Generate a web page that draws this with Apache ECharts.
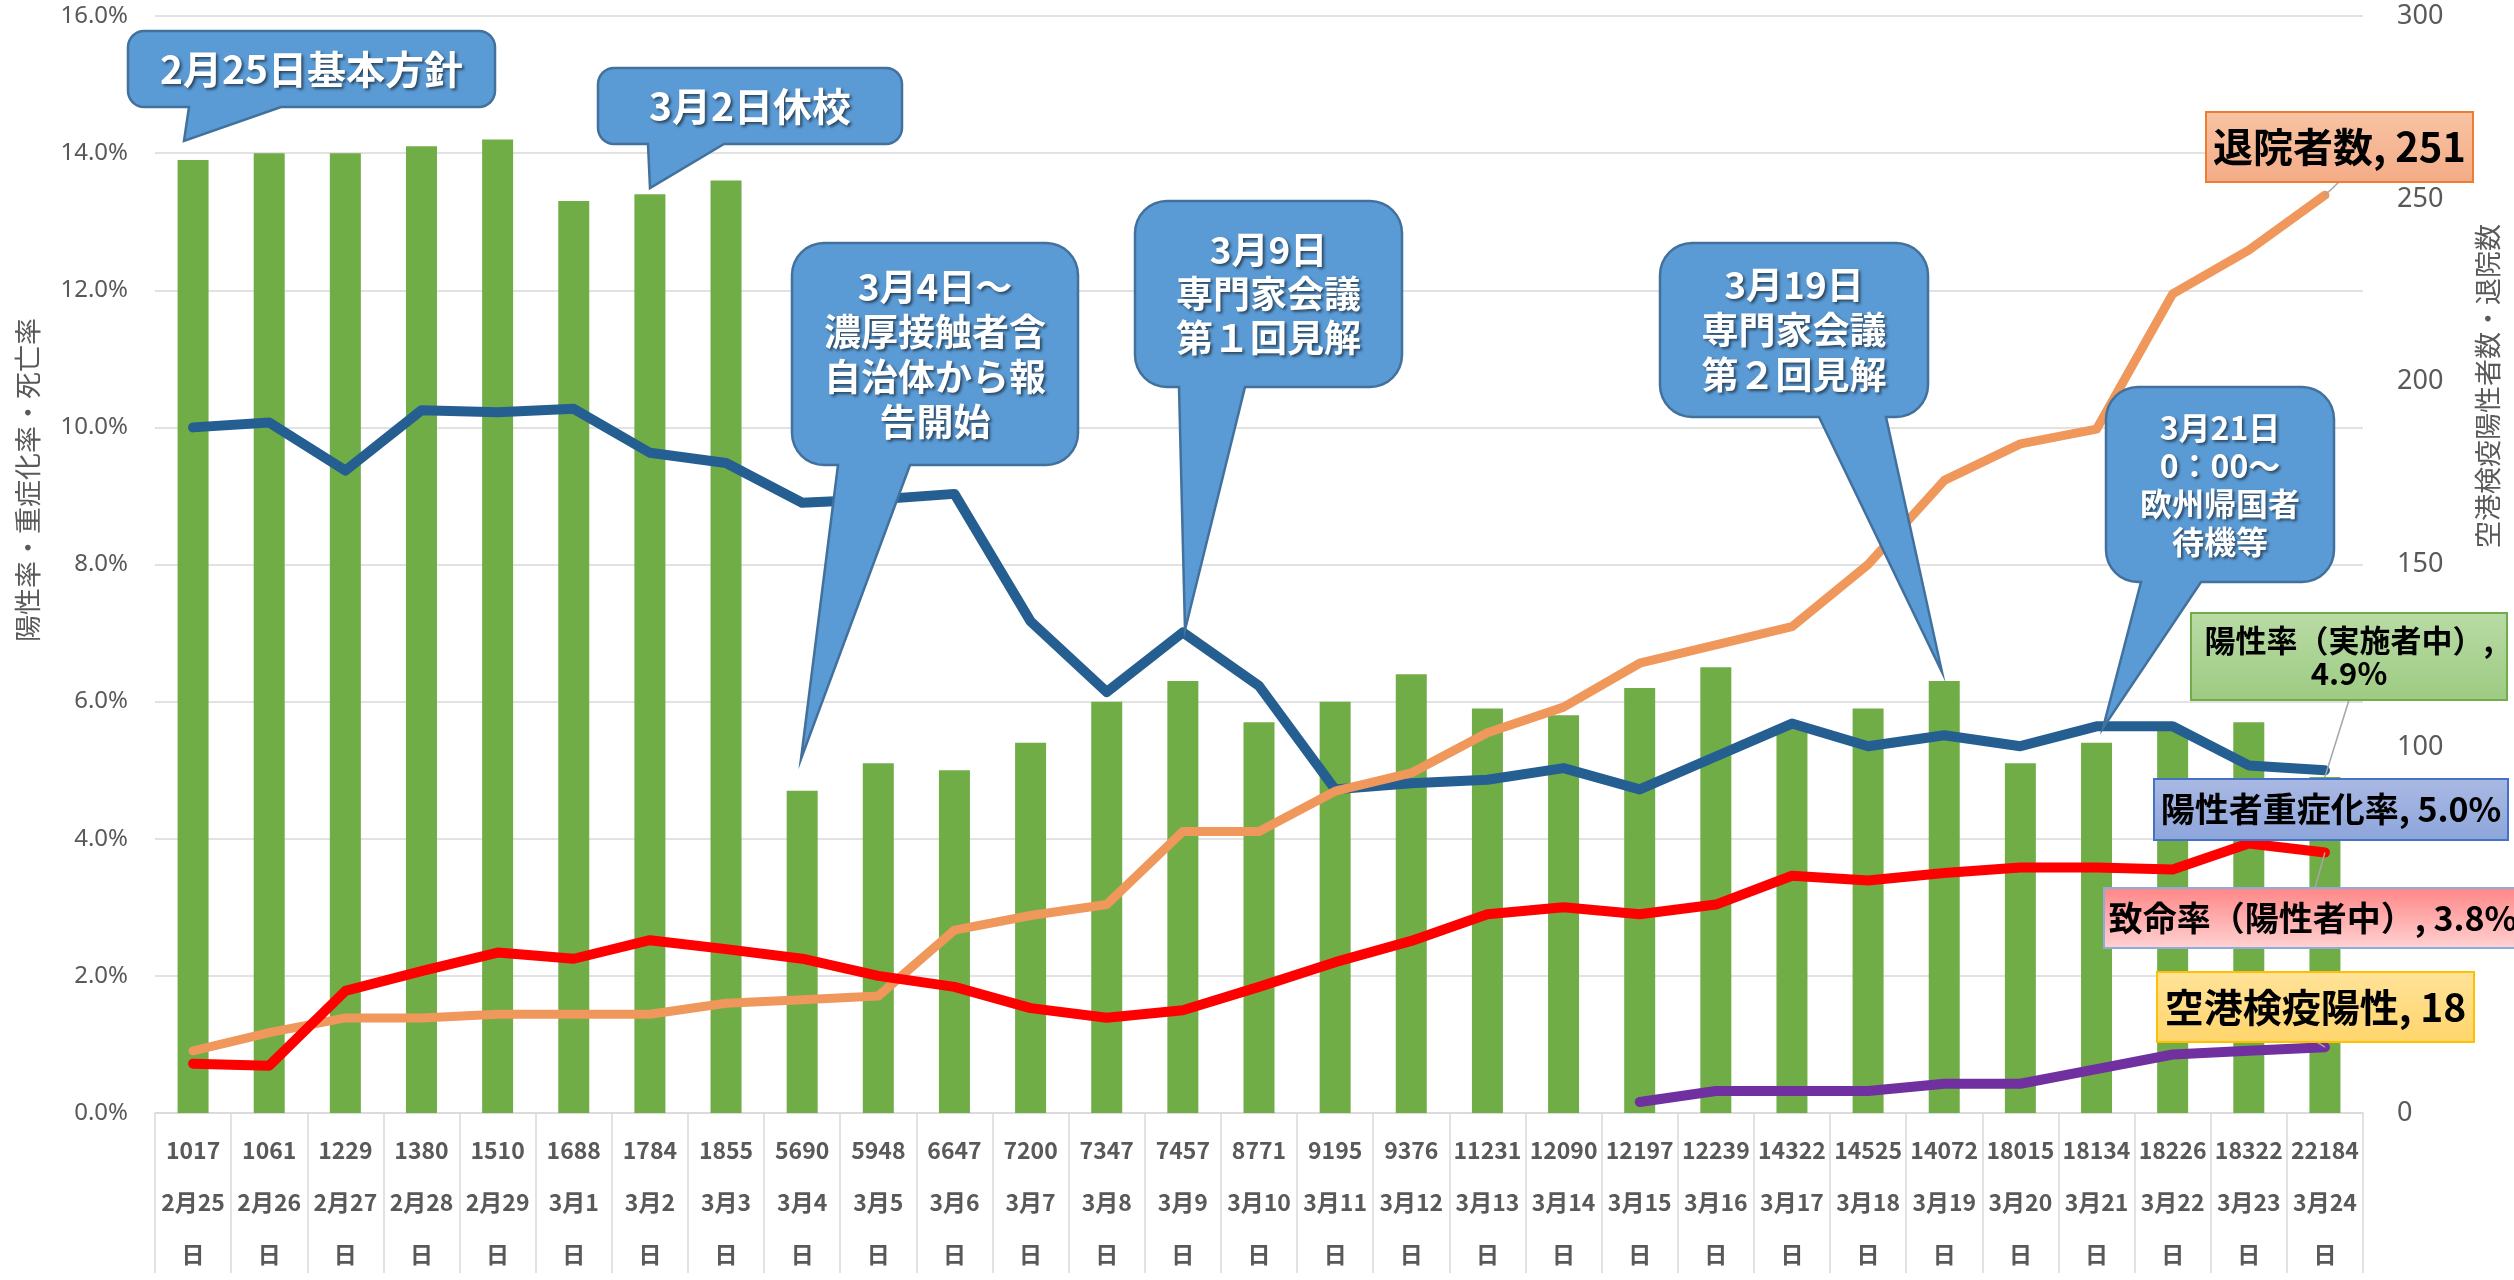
<!DOCTYPE html>
<html>
<head>
<meta charset="utf-8">
<script src="https://cdn.jsdelivr.net/npm/echarts@6/dist/echarts.min.js"></script>
<style>
  html, body { margin: 0; padding: 0; background: #fff; }
  #chart { width: 2514px; height: 1280px; }
</style>
</head>
<body>
<div id="chart"></div>
<script>
// カテゴリ（日付）と検査実施数
var dates = ['2月25日', '2月26日', '2月27日', '2月28日', '2月29日', '3月1日', '3月2日', '3月3日',
  '3月4日', '3月5日', '3月6日', '3月7日', '3月8日', '3月9日', '3月10日', '3月11日', '3月12日',
  '3月13日', '3月14日', '3月15日', '3月16日', '3月17日', '3月18日', '3月19日', '3月20日',
  '3月21日', '3月22日', '3月23日', '3月24日'];
var tests = [1017, 1061, 1229, 1380, 1510, 1688, 1784, 1855, 5690, 5948, 6647, 7200, 7347, 7457,
  8771, 9195, 9376, 11231, 12090, 12197, 12239, 14322, 14525, 14072, 18015, 18134, 18226, 18322, 22184];

// 左軸（%）
var positiveRate = [13.9, 14.0, 14.0, 14.1, 14.2, 13.3, 13.4, 13.6, 4.7, 5.1, 5.0, 5.4, 6.0, 6.3,
  5.7, 6.0, 6.4, 5.9, 5.8, 6.2, 6.5, 5.6, 5.9, 6.3, 5.1, 5.4, 5.6, 5.7, 4.9];
var severeRate = [10.0, 10.07, 9.37, 10.25, 10.22, 10.27, 9.63, 9.48, 8.9, 8.95, 9.03, 7.17, 6.14, 7.01,
  6.23, 4.72, 4.81, 4.86, 5.03, 4.72, 5.2, 5.68, 5.35, 5.51, 5.35, 5.64, 5.64, 5.07, 5.0];
var fatalityRate = [0.72, 0.69, 1.78, 2.07, 2.34, 2.25, 2.52, 2.39, 2.25, 2.0, 1.84, 1.53, 1.39, 1.5,
  1.84, 2.2, 2.51, 2.9, 3.0, 2.9, 3.04, 3.46, 3.39, 3.5, 3.58, 3.58, 3.55, 3.93, 3.8];

// 右軸（人数）
var discharged = [17, 22, 26, 26, 27, 27, 27, 30, 31, 32, 50, 54, 57, 77, 77, 88, 93, 104, 111, 123,
  128, 133, 150, 173, 183, 187, 224, 236, 251];
var airportPositive = [null, null, null, null, null, null, null, null, null, null, null, null, null,
  null, null, null, null, null, null, 3, 6, 6, 6, 8, 8, 12, 16, 17, 18];

var seriesNames = ['陽性率（実施者中）', '陽性者重症化率', '退院者数', '致命率（陽性者中）', '空港検疫陽性'];

var jp = '"Noto Sans CJK JP", sans-serif';
var myChart = echarts.init(document.getElementById('chart'));

var option = {
  animation: false,
  grid: { left: 155, right: 151, top: 16, bottom: 160 },
  xAxis: {
    type: 'category',
    data: dates,
    axisLine: { lineStyle: { color: '#D9D9D9', width: 1.5 } },
    axisTick: { show: true, interval: 0, length: 160, lineStyle: { color: '#D9D9D9', width: 1.5 } },
    axisLabel: {
      interval: 0,
      margin: 11,
      lineHeight: 52,
      fontSize: 23,
      fontWeight: 'bold',
      color: '#595959',
      fontFamily: jp,
      formatter: function (v, i) {
        return tests[i] + '\n' + v.replace('日', '\n日');
      }
    }
  },
  yAxis: [
    {
      type: 'value',
      min: 0,
      max: 16,
      interval: 2,
      axisLine: { show: false },
      axisTick: { show: false },
      splitLine: { lineStyle: { color: '#D9D9D9', width: 1.5 } },
      axisLabel: {
        margin: 27,
        fontSize: 24,
        color: '#595959',
        fontFamily: '"Noto Sans", sans-serif',
        formatter: function (v) { return v.toFixed(1) + '%'; }
      }
    },
    {
      type: 'value',
      min: 0,
      max: 300,
      interval: 50,
      axisLine: { show: false },
      axisTick: { show: false },
      splitLine: { show: false },
      axisLabel: {
        margin: 34,
        fontSize: 27,
        color: '#595959',
        fontFamily: '"Noto Sans", sans-serif'
      }
    }
  ],
  series: [
    {
      name: seriesNames[0],
      type: 'bar',
      yAxisIndex: 0,
      barWidth: 31,
      itemStyle: { color: '#70AD47' },
      data: positiveRate,
      z: 1
    },
    {
      name: seriesNames[1],
      type: 'line',
      yAxisIndex: 0,
      symbol: 'none',
      lineStyle: { color: '#255E91', width: 10, cap: 'round', join: 'round' },
      data: severeRate,
      z: 3
    },
    {
      name: seriesNames[2],
      type: 'line',
      yAxisIndex: 1,
      symbol: 'none',
      lineStyle: { color: '#F0975B', width: 9, cap: 'round', join: 'round' },
      data: discharged,
      z: 4
    },
    {
      name: seriesNames[3],
      type: 'line',
      yAxisIndex: 0,
      symbol: 'none',
      lineStyle: { color: '#FF0000', width: 10, cap: 'round', join: 'round' },
      data: fatalityRate,
      z: 5
    },
    {
      name: seriesNames[4],
      type: 'line',
      yAxisIndex: 1,
      symbol: 'none',
      connectNulls: false,
      lineStyle: { color: '#7030A0', width: 10, cap: 'round', join: 'round' },
      data: airportPositive,
      z: 6
    }
  ]
};
myChart.setOption(option);

// 吹き出し（角丸四角＋しっぽ）の輪郭
function bubblePoints(b, r, base, tip) {
  var x0 = b[0], y0 = b[1], x1 = b[2], y1 = b[3];
  var pts = [];
  function arc(cx, cy, a0, a1) {
    for (var k = 0; k <= 8; k++) {
      var a = (a0 + (a1 - a0) * k / 8) * Math.PI / 180;
      pts.push([cx + r * Math.cos(a), cy + r * Math.sin(a)]);
    }
  }
  arc(x1 - r, y0 + r, -90, 0);
  arc(x1 - r, y1 - r, 0, 90);
  pts.push([base[1], y1], tip, [base[0], y1]);
  arc(x0 + r, y1 - r, 90, 180);
  arc(x0 + r, y0 + r, 180, 270);
  return pts;
}

var callouts = [
  { lines: ['2月25日基本方針'], box: [128, 31, 495, 107], r: 16, base: [189, 281], tip: [184, 141], size: 39, lh: 44 },
  { lines: ['3月2日休校'], box: [598, 68, 902, 144], r: 16, base: [648, 724], tip: [650, 188], size: 39, lh: 44 },
  { lines: ['3月4日～', '濃厚接触者含', '自治体から報', '告開始'], box: [792, 243, 1078, 465], r: 32, base: [838, 910], tip: [801, 759], size: 37, lh: 45 },
  { lines: ['3月9日', '専門家会議', '第１回見解'], box: [1135, 201, 1402, 387], r: 32, base: [1179, 1245], tip: [1185, 630], size: 37, lh: 44 },
  { lines: ['3月19日', '専門家会議', '第２回見解'], box: [1660, 243, 1928, 417], r: 32, base: [1819, 1886], tip: [1942, 672], size: 37, lh: 45 },
  { lines: ['3月21日', '0：00～', '欧州帰国者', '待機等'], box: [2106, 387, 2334, 582], r: 32, base: [2141, 2201], tip: [2103, 728], size: 32, lh: 38 }
];

var graphics = [];
callouts.forEach(function (c) {
  graphics.push({
    type: 'polygon',
    z: 10,
    shape: { points: bubblePoints(c.box, c.r, c.base, c.tip) },
    style: { fill: '#5B9BD5', stroke: '#41719C', lineWidth: 2.5 }
  });
  graphics.push({
    type: 'text',
    z: 11,
    x: (c.box[0] + c.box[2]) / 2,
    y: (c.box[1] + c.box[3]) / 2,
    style: {
      text: c.lines.join('\n'),
      x: 0, y: 0,
      fill: '#fff',
      fontSize: c.size,
      fontWeight: 'bold',
      fontFamily: jp,
      lineHeight: c.lh,
      align: 'center', verticalAlign: 'middle',
      textAlign: 'center', textVerticalAlign: 'middle',
      textShadowColor: 'rgba(0,0,0,0.55)',
      textShadowBlur: 3,
      textShadowOffsetX: 2,
      textShadowOffsetY: 2
    }
  });
});

// 系列末尾のデータラベル
var last = dates.length - 1;
function grad(a, b) {
  return { type: 'linear', x: 0, y: 0, x2: 0, y2: 1, colorStops: [{ offset: 0, color: a }, { offset: 1, color: b }] };
}
var endLabels = [
  { s: 2, text: seriesNames[2] + ', ' + discharged[last], box: [2206, 112, 2473, 182], size: 40,
    fill: grad('#F8C4A4', '#F4AB86'), stroke: '#ED7D31', from: [2339, 182], val: discharged[last] },
  { s: 0, text: seriesNames[0] + ',\n' + positiveRate[last].toFixed(1) + '%', box: [2191, 613, 2507, 700], size: 31, lh: 33,
    fill: grad('#B9DBA6', '#9DCB82'), stroke: '#70AD47', from: [2349, 700], val: positiveRate[last] },
  { s: 1, text: seriesNames[1] + ', ' + severeRate[last].toFixed(1) + '%', box: [2154, 779, 2508, 840], size: 34,
    fill: grad('#AAB9E3', '#8DA5DB'), stroke: '#4472C4', from: null, val: severeRate[last] },
  { s: 3, text: seriesNames[3] + ', ' + fatalityRate[last].toFixed(1) + '%', box: [2104, 888, 2530, 948], size: 34,
    fill: grad('#FF8585', '#FFD3D3'), stroke: '#8FAADC', from: [2315, 888], val: fatalityRate[last] },
  { s: 4, text: seriesNames[4] + ', ' + airportPositive[last], box: [2157, 972, 2474, 1042], size: 39,
    fill: grad('#FFE39A', '#FFD56B'), stroke: '#FFC000', from: [2317, 1042], val: airportPositive[last] }
];

endLabels.forEach(function (L) {
  var p = myChart.convertToPixel({ seriesIndex: L.s }, [last, L.val]);
  if (L.from) {
    graphics.push({
      type: 'line',
      z: 12,
      shape: { x1: L.from[0], y1: L.from[1], x2: p[0], y2: p[1] },
      style: { stroke: '#A6A6A6', lineWidth: 1.5 }
    });
  }
  graphics.push({
    type: 'rect',
    z: 13,
    shape: { x: L.box[0], y: L.box[1], width: L.box[2] - L.box[0], height: L.box[3] - L.box[1] },
    style: { fill: L.fill, stroke: L.stroke, lineWidth: 2 }
  });
  graphics.push({
    type: 'text',
    z: 14,
    x: (L.box[0] + Math.min(L.box[2], 2514)) / 2 + (L.s === 3 ? 4 : 0),
    y: (L.box[1] + L.box[3]) / 2,
    style: {
      text: L.text,
      x: 0, y: 0,
      fill: '#000',
      fontSize: L.size,
      fontWeight: 'bold',
      fontFamily: jp,
      lineHeight: L.lh || L.size + 4,
      align: 'center', verticalAlign: 'middle',
      textAlign: 'center', textVerticalAlign: 'middle'
    }
  });
});

// 軸タイトル（縦書き）
graphics.push({
  type: 'text', z: 5, x: 28, y: 480, rotation: Math.PI / 2,
  style: {
    text: '陽性率・重症化率・死亡率', x: 0, y: 0, fill: '#595959', fontSize: 27, fontFamily: jp,
    align: 'center', verticalAlign: 'middle', textAlign: 'center', textVerticalAlign: 'middle'
  }
});
graphics.push({
  type: 'text', z: 5, x: 2488, y: 386, rotation: Math.PI / 2,
  style: {
    text: '空港検疫陽性者数・退院数', x: 0, y: 0, fill: '#595959', fontSize: 27, fontFamily: jp,
    align: 'center', verticalAlign: 'middle', textAlign: 'center', textVerticalAlign: 'middle'
  }
});

myChart.setOption({ graphic: graphics });
</script>
</body>
</html>
